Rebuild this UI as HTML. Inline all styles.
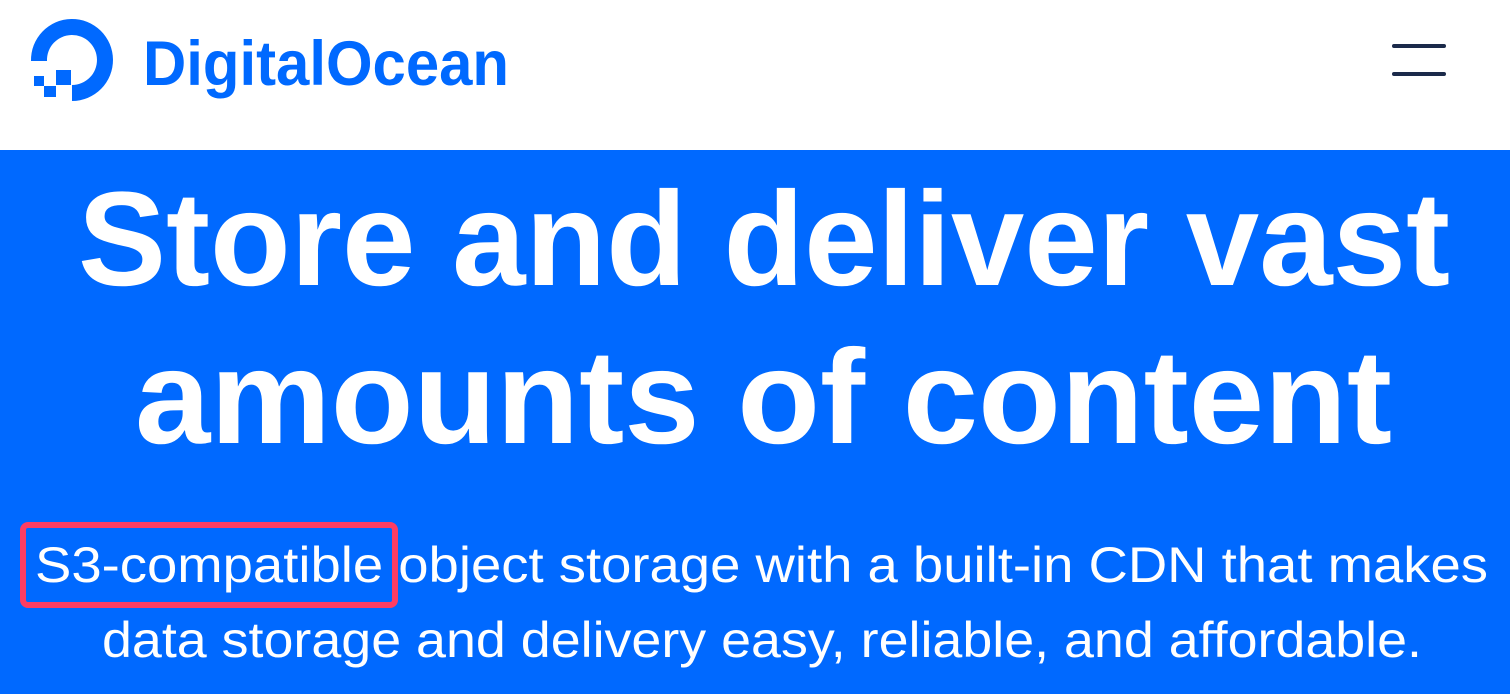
<!DOCTYPE html>
<html><head><meta charset="utf-8"><style>
html,body{margin:0;padding:0;width:1510px;height:694px;overflow:hidden;background:#fff}
svg{display:block}
</style></head><body>
<svg width="1510" height="694" viewBox="0 0 1510 694" xmlns="http://www.w3.org/2000/svg">
<rect x="0" y="0" width="1510" height="150" fill="#fff"/>
<rect x="0" y="150" width="1510" height="544" fill="#0069ff"/>
<!-- logo -->
<path d="M31 61 A41 41 0 1 1 72 101 L72 85 A25 25 0 1 0 47 61 Z" fill="#0069ff"/>
<rect x="56" y="70" width="15" height="15" fill="#0069ff"/>
<rect x="34" y="76" width="10" height="10" fill="#0069ff"/>
<rect x="44" y="86" width="12" height="11" fill="#0069ff"/>
<text x="143" y="85" font-family="Liberation Sans, sans-serif" font-weight="bold" font-size="63" fill="#0069ff" textLength="366" lengthAdjust="spacingAndGlyphs">DigitalOcean</text>
<!-- hamburger -->
<rect x="1392" y="44" width="54" height="4" rx="2" fill="#1b2a4a"/>
<rect x="1392" y="72" width="54" height="4" rx="2" fill="#1b2a4a"/>
<!-- headline -->
<g font-family="Liberation Sans, sans-serif" font-weight="bold" fill="#fff">
<text x="78" y="285" font-size="134" textLength="1372" lengthAdjust="spacingAndGlyphs">Store and deliver vast</text>
<text x="135" y="443" font-size="134" textLength="1257" lengthAdjust="spacingAndGlyphs">amounts of content</text>
</g>
<g font-family="Liberation Sans, sans-serif" fill="#fff" font-size="50">
<text x="35" y="582" textLength="1453" lengthAdjust="spacingAndGlyphs">S3-compatible object storage with a built-in CDN that makes</text>
<text x="102" y="657" textLength="1320" lengthAdjust="spacingAndGlyphs">data storage and delivery easy, reliable, and affordable.</text>
</g>
<rect x="23" y="525" width="372" height="80" rx="5" fill="none" stroke="#ff3d63" stroke-width="6"/>
</svg>
</body></html>
